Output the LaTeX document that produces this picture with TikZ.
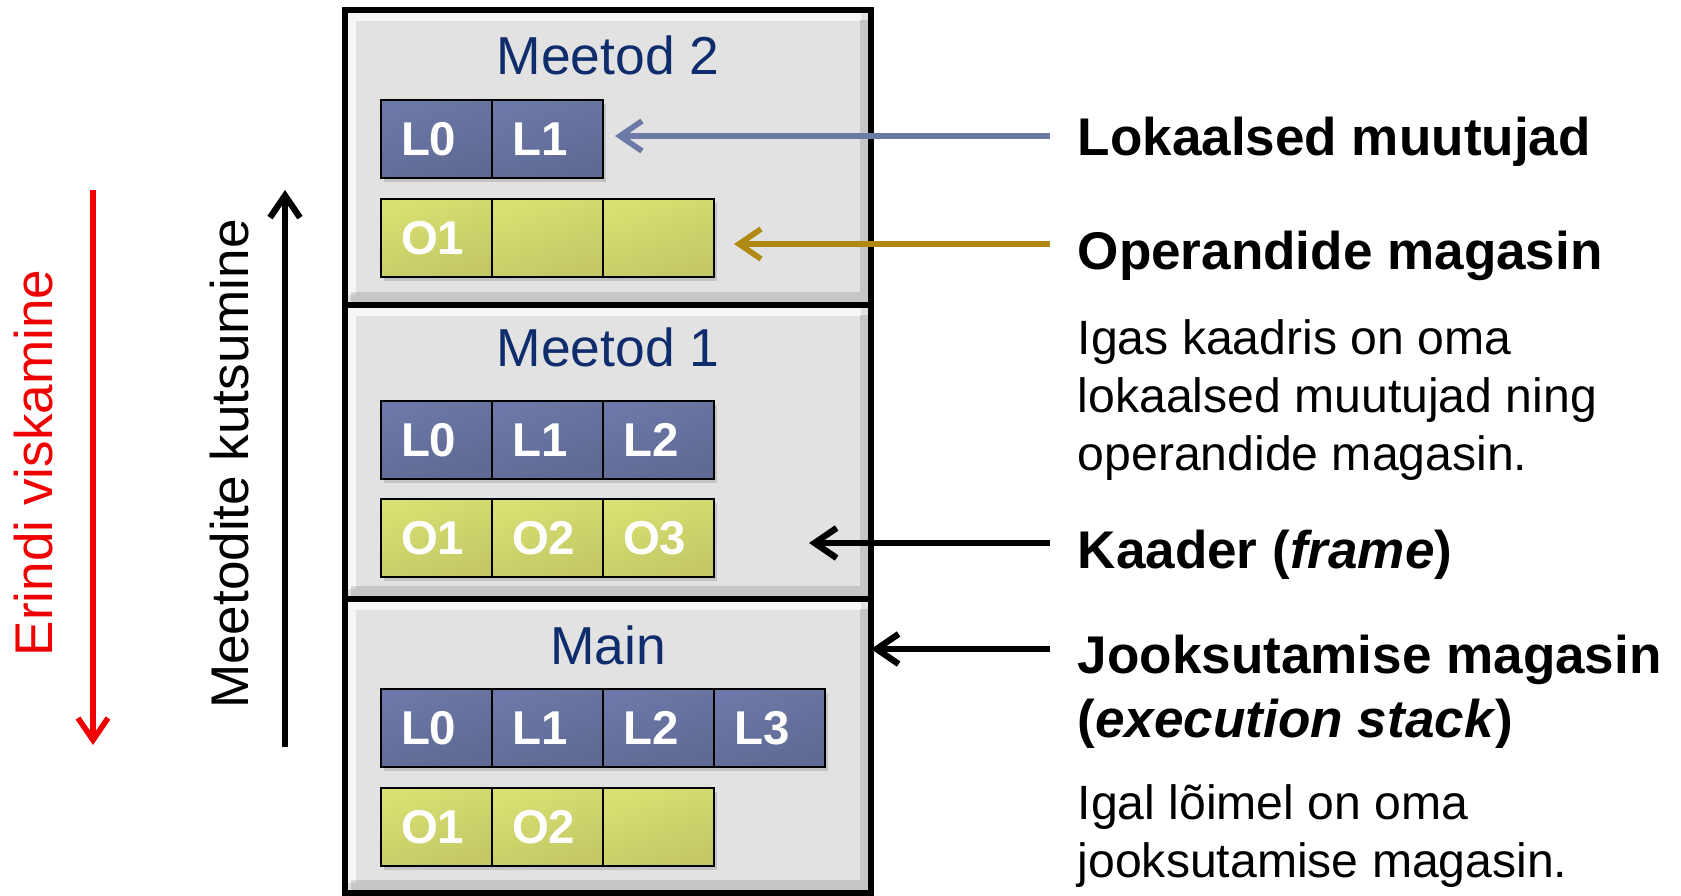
\documentclass[tikz,border=0pt]{standalone}
\usepackage{fontspec}
\setmainfont{Liberation Sans}
\usetikzlibrary{positioning}
\usetikzlibrary{arrows.meta}
\usetikzlibrary{shadows}

\definecolor{frameGray}{HTML}{E2E2E2}
\definecolor{titleBlue}{HTML}{0F2C6C}
\definecolor{locDark}{HTML}{5F6993}
\definecolor{locLight}{HTML}{6C78A7}
\definecolor{opDark}{HTML}{C3C865}
\definecolor{opLight}{HTML}{D8E072}
\definecolor{arrowBlue}{HTML}{6D7AA7}
\definecolor{arrowGold}{HTML}{B08A10}
\definecolor{throwRed}{HTML}{F00000}

\tikzset{
	frame_box/.style = {
		rectangle,
		draw=black,
		line width=1.5pt,
		fill=frameGray,
		minimum width=5.26cm,
		minimum height=2.94cm,
		inner sep=0pt,
		outer sep=0pt
	},
	bevel_hi/.style = {
		draw=white,
		opacity=0.7,
		line width=2pt
	},
	bevel_lo/.style = {
		draw=black,
		opacity=0.12,
		line width=3pt
	},
	frame_title/.style = {
		inner sep=0pt,
		text=titleBlue,
		font=\fontsize{15.2}{18}\selectfont
	},
	cell/.style = {
		rectangle,
		draw=black,
		line width=0.8pt,
		minimum height=0.78cm,
		text width=0.71cm,
		inner xsep=0.2cm,
		inner ysep=0pt,
		align=left,
		outer sep=0pt,
		text=white,
		font=\fontsize{13.5}{15}\selectfont\bfseries,
		drop shadow={shadow xshift=0.03cm, shadow yshift=-0.04cm, opacity=0.3}
	},
	cell_l/.style = {
		cell,
		top color=locLight,
		bottom color=locDark,
		shading angle=20
	},
	cell_o/.style = {
		cell,
		top color=opLight,
		bottom color=opDark,
		shading angle=20
	},
	label_bold/.style = {
		anchor=base west,
		inner sep=0pt,
		align=left,
		font=\fontsize{15.1}{18.2}\selectfont\bfseries
	},
	label_text/.style = {
		anchor=base west,
		inner sep=0pt,
		align=left,
		font=\fontsize{13.7}{16.4}\selectfont
	},
	side_text/.style = {
		inner sep=0pt,
		rotate=90,
		font=\fontsize{15.1}{18}\selectfont
	},
	pointer/.style = {
		->,
		line width=1.6pt
	},
}

\begin{document}
\begin{tikzpicture}[>={Straight Barb[length=2.2mm,width=3mm]}, node distance=0pt]
\useasboundingbox (0,0) rectangle (16.81,-8.95);

% the three frames of the stack
\node [frame_box, minimum height=2.95cm] (fr_m2) at (6.08,-1.575) {};
\node [frame_box, below=0pt of fr_m2] (fr_m1) {};
\node [frame_box, below=0pt of fr_m1] (fr_main) {};

\foreach \fr in {fr_m2, fr_m1, fr_main} {
	\draw [bevel_hi] ([shift={(0.07,0.1)}]\fr.south west) -- ([shift={(0.07,-0.07)}]\fr.north west) -- ([shift={(-0.1,-0.07)}]\fr.north east);
	\draw [bevel_lo] ([shift={(0.06,0.08)}]\fr.south west) -- ([shift={(-0.06,0.08)}]\fr.south east) -- ([shift={(-0.06,-0.1)}]\fr.north east);
}

\node [frame_title] (t_m2) at (6.08,-0.55) {Meetod 2};
\node [frame_title] (t_m1) at (6.08,-3.475) {Meetod 1};
\node [frame_title] (t_main) at (6.08,-6.455) {Main};

% Meetod 2
\node [cell_l, anchor=west] (m2_l0) at (3.81,-1.39) {L0};
\node [cell_l, right=of m2_l0] (m2_l1) {L1};
\node [cell_o, anchor=west] (m2_o1) at (3.81,-2.38) {O1};
\node [cell_o, right=of m2_o1] (m2_o2) {};
\node [cell_o, right=of m2_o2] (m2_o3) {};

% Meetod 1
\node [cell_l, anchor=west] (m1_l0) at (3.81,-4.40) {L0};
\node [cell_l, right=of m1_l0] (m1_l1) {L1};
\node [cell_l, right=of m1_l1] (m1_l2) {L2};
\node [cell_o, anchor=west] (m1_o1) at (3.81,-5.38) {O1};
\node [cell_o, right=of m1_o1] (m1_o2) {O2};
\node [cell_o, right=of m1_o2] (m1_o3) {O3};

% Main
\node [cell_l, anchor=west] (mn_l0) at (3.81,-7.28) {L0};
\node [cell_l, right=of mn_l0] (mn_l1) {L1};
\node [cell_l, right=of mn_l1] (mn_l2) {L2};
\node [cell_l, right=of mn_l2] (mn_l3) {L3};
\node [cell_o, anchor=west] (mn_o1) at (3.81,-8.27) {O1};
\node [cell_o, right=of mn_o1] (mn_o2) {O2};
\node [cell_o, right=of mn_o2] (mn_o3) {};

% left side
\coordinate (throw_top) at (0.93,-1.90);
\coordinate (throw_bot) at (0.93,-7.45);
\coordinate (call_bot) at (2.85,-7.47);
\coordinate (call_top) at (2.85,-1.90);
\node [side_text, text=throwRed] (lbl_throw) at (0.34,-4.63) {Erindi viskamine};
\node [side_text] (lbl_call) at (2.30,-4.64) {Meetodite kutsumine};
\draw [pointer, draw=throwRed] (throw_top) -- (throw_bot);
\draw [pointer, line width=1.8pt] (call_bot) -- (call_top);

% right side
\node [label_bold] (lbl_lok) at (10.77,-1.55) {Lokaalsed muutujad};
\node [label_bold] (lbl_op) at (10.77,-2.69) {Operandide magasin};
\node [label_text] (txt_frame) at (10.77,-4.70) {Igas kaadris on oma\\lokaalsed muutujad ning\\operandide magasin.};
\node [label_bold] (lbl_kaader) at (10.77,-5.68) {Kaader (\textit{frame})};
\node [label_bold] (lbl_jooks) at (10.77,-7.37) {Jooksutamise magasin\\(\textit{execution stack})};
\node [label_text] (txt_stack) at (10.77,-8.77) {Igal lõimel on oma\\jooksutamise magasin.};

\coordinate (lok_start) at (10.50,-1.36);
\coordinate (op_start) at (10.50,-2.44);
\coordinate (kaader_start) at (10.50,-5.43);
\coordinate (jooks_start) at (10.50,-6.49);
\draw [pointer, draw=arrowBlue, shorten >=0.12cm] (lok_start) -- (m2_l1.east |- lok_start);
\draw [pointer, draw=arrowGold, shorten >=0.20cm] (op_start) -- (m2_o3.east |- op_start);
\draw [pointer, line width=1.8pt, shorten >=0.95cm] (kaader_start) -- (m1_o3.east |- kaader_start);
\draw [pointer, line width=1.8pt] (jooks_start) -- (fr_main.east |- jooks_start);
\end{tikzpicture}
\end{document}
